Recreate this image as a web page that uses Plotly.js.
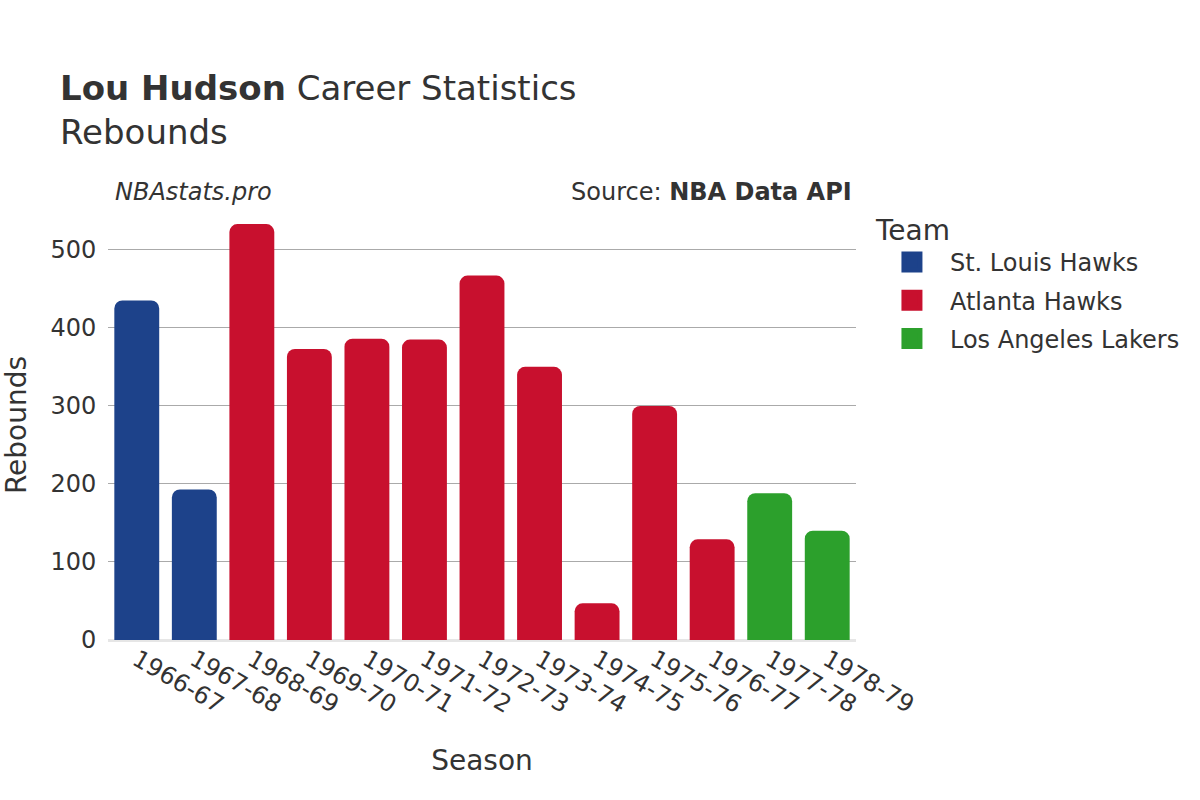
<!DOCTYPE html>
<html>
<head>
<meta charset="utf-8">
<script src="https://cdn.plot.ly/plotly-3.0.1.min.js"></script>
<style>html,body{margin:0;padding:0;background:#fff;}</style>
</head>
<body>
<div id="chart" style="width:1200px;height:800px;"></div>
<script>
const seasons = ["1966-67","1967-68","1968-69","1969-70","1970-71","1971-72","1972-73","1973-74","1974-75","1975-76","1976-77","1977-78","1978-79"];
const rebounds = [435,193,533,373,386,385,467,350,47,300,129,188,140];
const teams = ["St. Louis Hawks","St. Louis Hawks","Atlanta Hawks","Atlanta Hawks","Atlanta Hawks","Atlanta Hawks","Atlanta Hawks","Atlanta Hawks","Atlanta Hawks","Atlanta Hawks","Atlanta Hawks","Los Angeles Lakers","Los Angeles Lakers"];
const teamOrder = ["St. Louis Hawks","Atlanta Hawks","Los Angeles Lakers"];
const teamColors = ["#1d428a","#c8102e","#2ca02c"];
const tickVals = [0,100,200,300,400,500];

const font = "DejaVu Sans, Verdana, sans-serif";
const traces = [];
teamOrder.forEach((t, i) => {
  const xs = [], ys = [];
  seasons.forEach((s, j) => { if (teams[j] === t) { xs.push(s); ys.push(rebounds[j]); } });
  traces.push({type: "bar", name: t, x: xs, y: ys, marker: {color: teamColors[i]}, showlegend: false, legendgroup: t, hoverinfo: "x+y+name"});
});
// legend-only entries with large square swatches
teamOrder.forEach((t, i) => {
  traces.push({type: "scatter", mode: "markers", name: t, x: [null], y: [null], legendgroup: t,
    marker: {symbol: "square", size: 16, color: teamColors[i], line: {width: 5, color: teamColors[i]}}, hoverinfo: "skip"});
});

const layout = {
  width: 1200, height: 800,
  paper_bgcolor: "#fff", plot_bgcolor: "#fff",
  font: {family: font, color: "#333", size: 24},
  margin: {l: 108, r: 344, t: 210, b: 160},
  barmode: "overlay",
  bargap: 0.22,
  barcornerradius: 8,
  title: {
    text: "<b>Lou Hudson</b> Career Statistics<br>Rebounds",
    x: 0.05, xanchor: "left", y: 0.875, yanchor: "top",
    font: {family: font, size: 34, color: "#333"}
  },
  xaxis: {
    type: "category", categoryorder: "array", categoryarray: seasons,
    tickangle: 30, tickfont: {size: 24, color: "#333"},
    title: {text: "Season", font: {size: 28, color: "#333"}, standoff: 32},
    showgrid: false, ticks: "", showline: false
  },
  yaxis: {
    range: [0, 551], tickvals: tickVals,
    tickfont: {size: 24, color: "#333"},
    title: {text: "Rebounds", font: {size: 28, color: "#333"}, standoff: 30},
    gridcolor: "#aaaaaa", gridwidth: 1,
    zeroline: true, zerolinecolor: "#e6e6e6", zerolinewidth: 3,
    ticks: "outside", ticklen: 6, tickcolor: "rgba(0,0,0,0)"
  },
  legend: {
    title: {text: "Team", font: {size: 28, color: "#333"}},
    x: 1.024, xanchor: "left", y: 1.015, yanchor: "top",
    font: {size: 24, color: "#333"}, itemwidth: 66, tracegroupgap: 4,
    traceorder: "grouped"
  },
  annotations: [
    {text: "<i>NBAstats.pro</i>", xref: "paper", yref: "paper", x: 0.007, y: 1.005, xanchor: "left", yanchor: "bottom", showarrow: false, font: {size: 24, color: "#333"}},
    {text: "Source: <b>NBA Data API</b>", xref: "paper", yref: "paper", x: 0.997, y: 1.005, xanchor: "right", yanchor: "bottom", showarrow: false, font: {size: 24, color: "#333"}}
  ]
};
Plotly.newPlot("chart", traces, layout, {displayModeBar: false});
</script>
</body>
</html>
